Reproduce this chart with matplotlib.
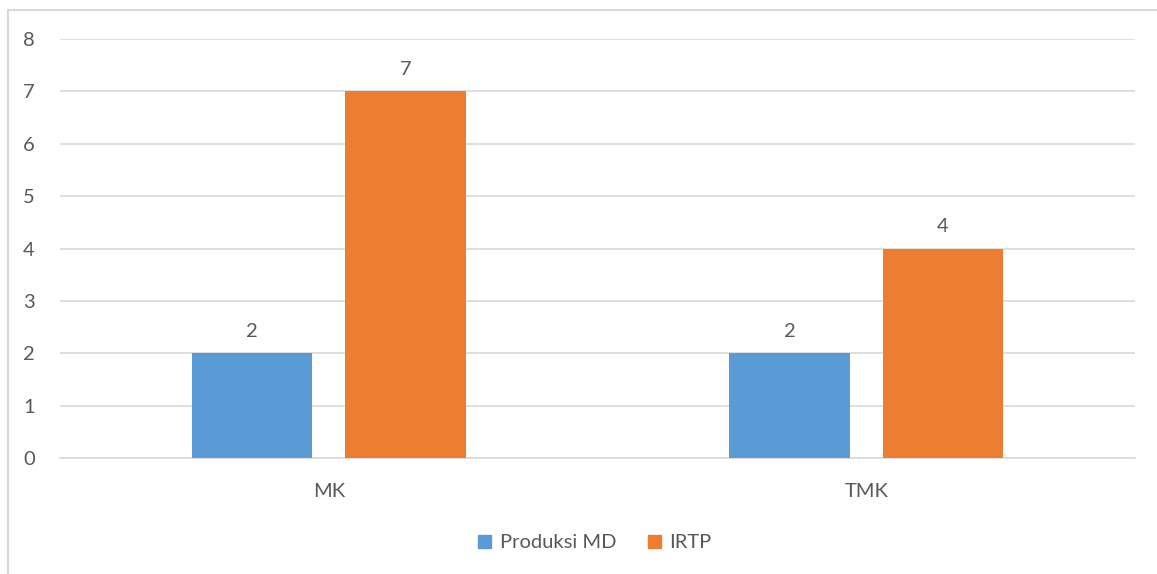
import matplotlib
matplotlib.use("Agg")
import matplotlib.pyplot as plt
import numpy as np
from matplotlib.lines import Line2D

categories = ["MK", "TMK"]
series_names = ["Produksi MD", "IRTP"]
produksi_md = [2, 2]
irtp = [7, 4]
yticks = [0, 1, 2, 3, 4, 5, 6, 7, 8]

plt.rcParams['font.family'] = ['Lato', 'DejaVu Sans']
text_color = "#595959"
grid_color = "#d9d9d9"
colors = ["#5B9BD5", "#ED7D31"]
fs = 14.5

fig = plt.figure(figsize=(11.57, 5.74), dpi=100)
ax = fig.add_axes([60/1157, (574-458)/574, (1135-60)/1157, (458-39)/574])

x = np.arange(len(categories))
w = 0.2233
off = 0.1428
for vals, name, c, o in [(produksi_md, series_names[0], colors[0], -off),
                         (irtp, series_names[1], colors[1], off)]:
    bars = ax.bar(x + o, vals, width=w, color=c, label=name, zorder=3)
    for b, v in zip(bars, vals):
        ax.text(b.get_x() + b.get_width()/2, v + 0.25, str(v), ha="center", va="bottom",
                fontsize=fs, color=text_color)

ax.set_xlim(-0.5, 1.5)
ax.set_ylim(0, 8)
ax.set_yticks(yticks)
ax.set_xticks(x)
ax.set_xticklabels(categories)
ax.yaxis.grid(True, color=grid_color, linewidth=1.2, zorder=0)
ax.set_axisbelow(True)
for s in ["top", "right", "left"]:
    ax.spines[s].set_visible(False)
ax.spines["bottom"].set_color(grid_color)
ax.spines["bottom"].set_linewidth(1.2)
ax.tick_params(axis="both", length=0, labelsize=fs, labelcolor=text_color)
ax.tick_params(axis="y", pad=18)
ax.tick_params(axis="x", pad=18)

handles = [plt.Rectangle((0, 0), 1, 1, color=c) for c in colors]
fig.legend(handles, series_names, loc="center", bbox_to_anchor=(595/1157, 1 - 543/574),
           ncol=2, frameon=False, fontsize=fs, labelcolor=text_color,
           handlelength=0.65, handleheight=0.65, handletextpad=0.4, columnspacing=1.6)

# outer chart border (left and top visible)
fig.add_artist(Line2D([8/1157, 8/1157], [0, 1 - 10/574], transform=fig.transFigure,
                      color=grid_color, linewidth=1.5))
fig.add_artist(Line2D([8/1157, 1], [1 - 10/574, 1 - 10/574], transform=fig.transFigure,
                      color=grid_color, linewidth=1.5))

fig.savefig("out.png", dpi=100)
